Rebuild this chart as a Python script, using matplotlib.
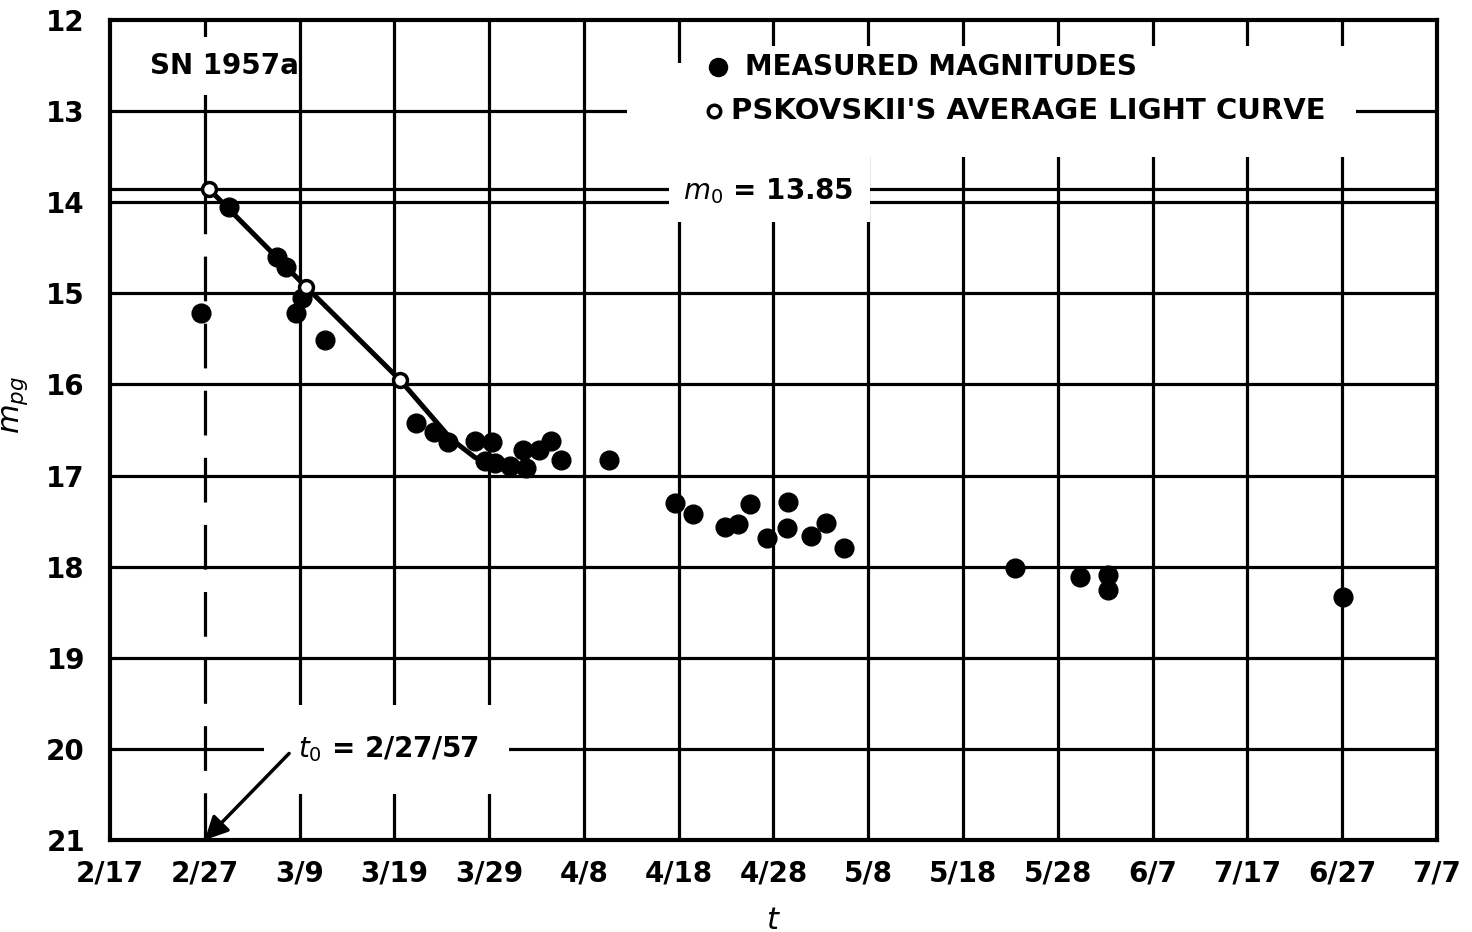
import numpy as np
import matplotlib.pyplot as plt
from matplotlib.patches import Rectangle

plt.rcParams['font.family'] = ['DejaVu Sans']
plt.rcParams['mathtext.fontset'] = 'dejavusans'

# days counted from 2/17/57
meas_day = [9.6, 12.6, 17.6, 18.6, 19.6, 20.3, 22.7,
            32.3, 34.2, 35.7, 38.5, 40.3, 39.6, 40.6, 42.2, 43.6, 43.9,
            45.3, 46.5, 47.6, 52.7,
            59.6, 61.5, 64.9, 66.3, 67.5, 69.3, 71.5, 71.4, 74.0, 75.5, 77.4,
            95.5, 102.3, 105.3, 105.3, 130.1]
meas_mag = [15.22, 14.05, 14.60, 14.71, 15.22, 15.05, 15.51,
            16.42, 16.52, 16.63, 16.62, 16.63, 16.84, 16.86, 16.90, 16.72, 16.92,
            16.72, 16.62, 16.83, 16.83,
            17.30, 17.42, 17.56, 17.53, 17.31, 17.68, 17.29, 17.57, 17.66, 17.52, 17.80,
            18.01, 18.11, 18.09, 18.26, 18.33]

# Pskovskii's average light curve
avg_day = [10.4, 20.7, 30.6]
avg_mag = [13.85, 14.93, 15.95]
curve_day = [10.4, 20.7, 30.6, 36.0, 38.5, 41.0]
curve_mag = [13.85, 14.93, 15.95, 16.60, 16.80, 16.90]

m0 = 13.85
t0 = 10

xticks = list(range(0, 141, 10))
xlabels = ['2/17', '2/27', '3/9', '3/19', '3/29', '4/8', '4/18', '4/28',
           '5/8', '5/18', '5/28', '6/7', '7/17', '6/27', '7/7']
yticks = list(range(12, 22))

fig = plt.figure(figsize=(14.72, 9.32), dpi=100)
ax = fig.add_axes([0.0747, 0.0987, 0.9015, 0.8798])
ax.set_xlim(0, 140)
ax.set_ylim(21, 12)

glw = 2.3
# grid, drawn by hand so the t0 line can be dashed
for x in xticks[1:-1]:
    if x == t0:
        ax.plot([x, x], [12, m0], color='k', lw=glw, zorder=1)
        ax.plot([x, x], [m0, 21], color='k', lw=glw, zorder=1, dashes=(14, 7))
    else:
        ax.plot([x, x], [12, 21], color='k', lw=glw, zorder=1)
for y in yticks[1:-1]:
    ax.plot([0, 140], [y, y], color='k', lw=glw, zorder=1)
ax.plot([0, 140], [m0, m0], color='k', lw=glw, zorder=1)

# blank areas behind the lettering
for (x0, x1, y0, y1) in [(3.0, 19.5, 12.19, 12.82),
                         (61.0, 131.5, 12.28, 13.50),
                         (54.5, 61.0, 12.47, 13.50),
                         (59.0, 80.2, 13.48, 14.22),
                         (16.2, 42.1, 19.52, 20.49)]:
    ax.add_patch(Rectangle((x0, y0), x1 - x0, y1 - y0, facecolor='white',
                           edgecolor='none', zorder=1.5))

ax.plot(curve_day, curve_mag, color='k', lw=3.6, zorder=3,
        solid_capstyle='round')
ax.plot(meas_day, meas_mag, 'o', color='k', ms=13.5, zorder=4)
ax.plot(avg_day, avg_mag, 'o', mfc='white', mec='k', mew=2.5, ms=10, zorder=5)

fs = 20
ax.text(4.2, 12.5, 'SN 1957a', fontsize=fs, fontweight='bold', va='center',
        ha='left', zorder=6)

# legend
ax.plot([64.2], [12.52], 'o', color='k', ms=13, zorder=6)
ax.plot([63.7], [13.0], 'o', mfc='white', mec='k', mew=2.5, ms=9, zorder=6)
ax.text(67.0, 12.52, 'MEASURED MAGNITUDES', fontsize=fs, fontweight='bold',
        va='center', ha='left', zorder=6)
ax.text(65.5, 13.0, "PSKOVSKII'S AVERAGE LIGHT CURVE", fontsize=fs + 1,
        fontweight='bold', va='center', ha='left', zorder=6)

ax.text(60.5, 13.88, r'$m_0$' + ' = 13.85', fontsize=fs, fontweight='bold',
        va='center', ha='left', zorder=6)
ax.text(19.8, 20.0, r'$t_0$' + ' = 2/27/57', fontsize=fs, fontweight='bold',
        va='center', ha='left', zorder=6)
ax.annotate('', xy=(t0, 21), xytext=(18.9, 20.05),
            arrowprops=dict(arrowstyle='-|>', lw=2.5, color='k',
                            mutation_scale=35, shrinkA=0, shrinkB=0),
            zorder=6)

ax.set_xticks(xticks)
ax.set_xticklabels(xlabels, fontsize=fs, fontweight='bold')
ax.set_yticks(yticks)
ax.set_yticklabels([str(v) for v in yticks], fontsize=fs, fontweight='bold')
ax.tick_params(length=0)
ax.tick_params(axis='x', pad=14)
ax.tick_params(axis='y', pad=18)
for s in ax.spines.values():
    s.set_linewidth(3)

ax.set_xlabel(r'$t$', fontsize=fs + 2)
ax.xaxis.set_label_coords(0.5, -0.08)
ax.set_ylabel(r'$m_{pg}$', fontsize=fs + 2)
ax.yaxis.set_label_coords(-0.06, 0.53)

fig.savefig('out.png', dpi=100)
